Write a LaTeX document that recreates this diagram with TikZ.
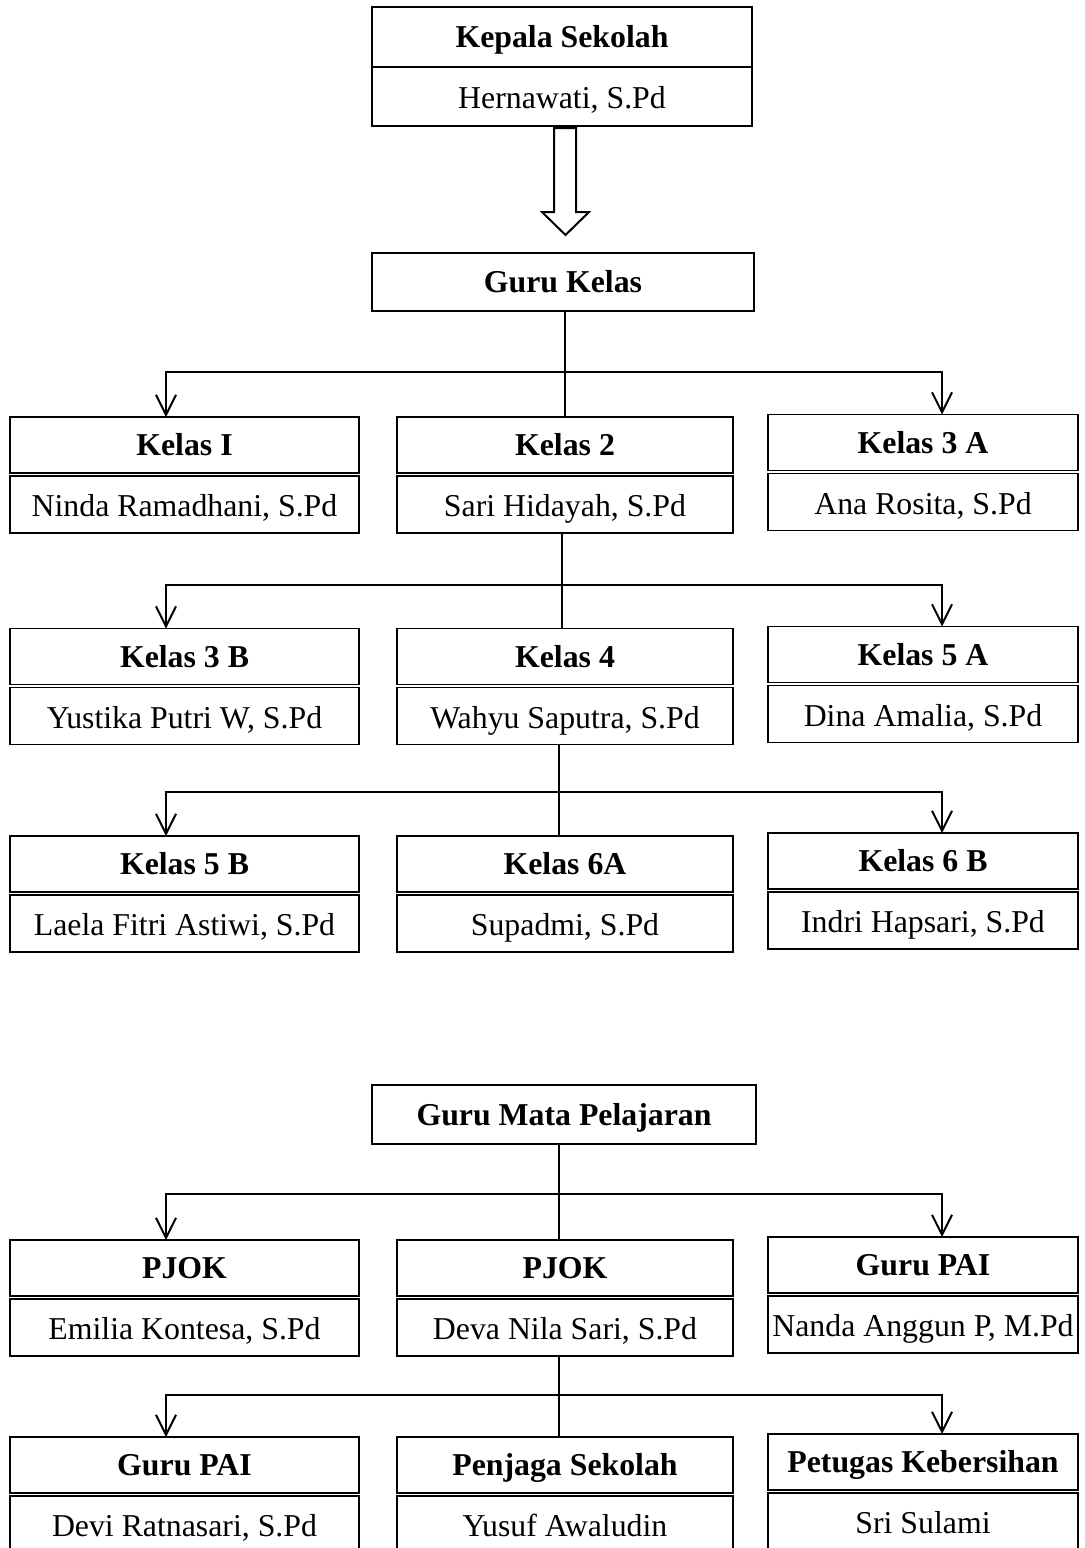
\documentclass[tikz,border=0pt]{standalone}
\usepackage{fontspec}
\setmainfont{Liberation Serif}
\usetikzlibrary{arrows.meta,calc,positioning}

\begin{document}
\begin{tikzpicture}[x=0.5pt,y=-0.5pt,font=\fontsize{15.9}{19}\selectfont,
    box/.style={draw,line width=0.6pt,inner sep=0pt,outer sep=0pt},
    judul/.style={box,minimum height=28pt,text height=10.5pt,text depth=0pt,font=\fontsize{15.9}{19}\selectfont\bfseries},
    nama/.style={box,minimum height=28.5pt,text height=12pt,text depth=0pt},
    kiri/.style={minimum width=174.5pt},
    tengah/.style={minimum width=168pt},
    kanan/.style={minimum width=155pt},
    garis/.style={line width=1pt},
    panah/.style={garis,-{Straight Barb[length=10pt,width=10pt]}}]
    \useasboundingbox (0,0) rectangle (1085,1548);

    \node [judul,minimum width=190pt,minimum height=30pt] (kepala) at (562,37) {Kepala Sekolah};
    \node [nama,minimum width=190pt,minimum height=29.5pt,below=0pt of kepala] (kepalanama) {Hernawati, S.Pd};
    \draw [garis] ($(kepalanama.south)+(-8,2)$) -- ++(22,0) -- ++(0,84) -- ++(13,0) -- ++(-23.5,23) -- ++(-23.5,-23) -- ++(12,0) -- cycle;

    \node [judul,minimum width=191pt,minimum height=29pt] (gurukelas) at (563,282) {Guru Kelas};

    \node [judul,kiri] (kelas1) at (184.5,445) {Kelas I};
    \node [nama,kiri,below=1.5pt of kelas1] (kelas1nama) {Ninda Ramadhani, S.Pd};
    \node [judul,tengah] (kelas2) at (565,445) {Kelas 2};
    \node [nama,tengah,below=1.5pt of kelas2] (kelas2nama) {Sari Hidayah, S.Pd};
    \node [judul,kanan] (kelas3a) at (923,442.5) {Kelas 3 A};
    \node [nama,kanan,below=1.5pt of kelas3a] (kelas3anama) {Ana Rosita, S.Pd};

    \node [judul,kiri] (kelas3b) at (184.5,656.5) {Kelas 3 B};
    \node [nama,kiri,below=1.5pt of kelas3b] (kelas3bnama) {Yustika Putri W, S.Pd};
    \node [judul,tengah] (kelas4) at (565,656.5) {Kelas 4};
    \node [nama,tengah,below=1.5pt of kelas4] (kelas4nama) {Wahyu Saputra, S.Pd};
    \node [judul,kanan] (kelas5a) at (923,654.5) {Kelas 5 A};
    \node [nama,kanan,below=1.5pt of kelas5a] (kelas5anama) {Dina Amalia, S.Pd};

    \node [judul,kiri] (kelas5b) at (184.5,864) {Kelas 5 B};
    \node [nama,kiri,below=1.5pt of kelas5b] (kelas5bnama) {Laela Fitri Astiwi, S.Pd};
    \node [judul,tengah] (kelas6a) at (565,864) {Kelas 6A};
    \node [nama,tengah,below=1.5pt of kelas6a] (kelas6anama) {Supadmi, S.Pd};
    \node [judul,kanan] (kelas6b) at (923,861) {Kelas 6 B};
    \node [nama,kanan,below=1.5pt of kelas6b] (kelas6bnama) {Indri Hapsari, S.Pd};

    \node [judul,minimum width=192pt,minimum height=29.5pt] (gurumapel) at (564,1114.5) {Guru Mata Pelajaran};

    \node [judul,kiri] (pjok1) at (184.5,1268) {PJOK};
    \node [nama,kiri,below=1.5pt of pjok1] (pjok1nama) {Emilia Kontesa, S.Pd};
    \node [judul,tengah] (pjok2) at (565,1268) {PJOK};
    \node [nama,tengah,below=1.5pt of pjok2] (pjok2nama) {Deva Nila Sari, S.Pd};
    \node [judul,kanan] (pai1) at (923,1265) {Guru PAI};
    \node [nama,kanan,below=1.5pt of pai1] (pai1nama) {Nanda Anggun P, M.Pd};

    \node [judul,kiri] (pai2) at (184.5,1465) {Guru PAI};
    \node [nama,kiri,below=1.5pt of pai2] (pai2nama) {Devi Ratnasari, S.Pd};
    \node [judul,tengah] (penjaga) at (565,1465) {Penjaga Sekolah};
    \node [nama,tengah,below=1.5pt of penjaga] (penjaganama) {Yusuf Awaludin};
    \node [judul,kanan] (petugas) at (923,1462) {Petugas Kebersihan};
    \node [nama,kanan,below=1.5pt of petugas] (petugasnama) {Sri Sulami};

    \coordinate (cabang1) at (565,372);
    \coordinate (cabang2) at (562,585);
    \coordinate (cabang3) at (559,792);
    \coordinate (cabang4) at (559,1194);
    \coordinate (cabang5) at (559,1395);

    \draw [garis] (gurukelas.south -| kelas2.north) -- (kelas2.north);
    \draw [panah] (cabang1) -| ($(kelas1.north)+(-18.5,0)$);
    \draw [panah] (cabang1) -| ($(kelas3a.north)+(19,0)$);

    \draw [garis] ([xshift=-1.5pt]kelas2nama.south) -- ([xshift=-1.5pt]kelas4.north);
    \draw [panah] (cabang2) -| ($(kelas3b.north)+(-18.5,0)$);
    \draw [panah] (cabang2) -| ($(kelas5a.north)+(19,0)$);

    \draw [garis] ([xshift=-3pt]kelas4nama.south) -- ([xshift=-3pt]kelas6a.north);
    \draw [panah] (cabang3) -| ($(kelas5b.north)+(-18.5,0)$);
    \draw [panah] (cabang3) -| ($(kelas6b.north)+(19,0)$);

    \draw [garis] ([xshift=-3pt]gurumapel.south -| pjok2.north) -- ([xshift=-3pt]pjok2.north);
    \draw [panah] (cabang4) -| ($(pjok1.north)+(-18.5,0)$);
    \draw [panah] (cabang4) -| ($(pai1.north)+(19,0)$);

    \draw [garis] ([xshift=-3pt]pjok2nama.south) -- ([xshift=-3pt]penjaga.north);
    \draw [panah] (cabang5) -| ($(pai2.north)+(-18.5,0)$);
    \draw [panah] (cabang5) -| ($(petugas.north)+(19,0)$);
\end{tikzpicture}
\end{document}
